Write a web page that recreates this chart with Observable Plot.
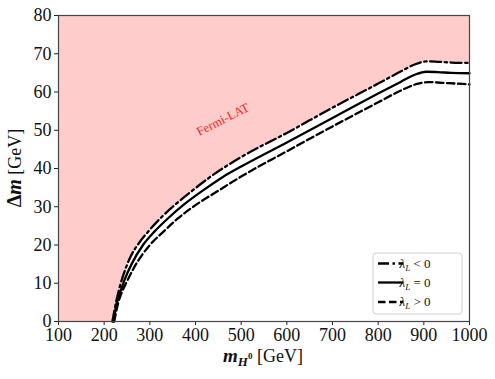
<!DOCTYPE html>
<html>
<head>
<meta charset="utf-8">
<script src="https://cdn.jsdelivr.net/npm/d3@7"></script>
<script src="https://cdn.jsdelivr.net/npm/@observablehq/plot@0.6"></script>
<style>
  html, body { margin: 0; padding: 0; background: #fff; }
  #chart { position: relative; width: 495px; height: 379px; }
  #chart svg, #chart svg text { font-family: 'Liberation Serif', 'DejaVu Serif', serif; }
</style>
</head>
<body>
<div id="chart"></div>
<script>
// Data (m_H0 in GeV, Δm in GeV)
const negMass = [218, 226, 234, 243, 258, 275, 300, 330, 360, 393, 430, 500, 600, 700, 800, 850, 880, 905, 930, 960, 1000];
const negDelta = [0, 5, 9, 12.5, 17, 20.3, 24, 27.8, 31, 34.2, 37.6, 43, 49.3, 55.9, 62.2, 65.4, 67.2, 68.0, 67.9, 67.7, 67.6];
const zeroMass = [220, 228, 236, 245, 260, 285, 310, 340, 375, 418, 460, 500, 600, 700, 800, 850, 880, 905, 930, 960, 1000];
const zeroDelta = [0, 5, 8, 11, 15, 20, 23.5, 27, 30.6, 34.4, 37.8, 40.5, 46.8, 53.2, 59.6, 62.7, 64.5, 65.3, 65.2, 65.0, 64.9];
const posMass = [222, 230, 240, 250, 265, 300, 330, 360, 395, 450, 500, 600, 700, 800, 850, 885, 910, 940, 970, 1000];
const posDelta = [0, 4.5, 8, 10.5, 14, 20, 23.5, 26.8, 30, 34.2, 37.9, 44.5, 51.0, 57.3, 60.4, 62.1, 62.6, 62.4, 62.2, 62.0];

const xTicks = [100, 200, 300, 400, 500, 600, 700, 800, 900, 1000];
const yTicks = [0, 10, 20, 30, 40, 50, 60, 70, 80];
const seriesNames = ["λ_L < 0", "λ_L = 0", "λ_L > 0"];
const regionLabel = "Fermi-LAT";
const regionLabelPos = [{m: 460, d: 52.8}];

const toRows = (ms, ds) => ms.map((m, i) => ({m, d: ds[i]}));
const neg = toRows(negMass, negDelta);
const zero = toRows(zeroMass, zeroDelta);
const pos = toRows(posMass, posDelta);
const shade = [{m: 100, d: 0}, ...neg];

const cmSerif = "'Liberation Serif', 'DejaVu Serif', serif";
const dashDot = "11,3.5,2.5,3.5";
const dashed = "7.5,3.5";

const plot = Plot.plot({
  width: 495,
  height: 379,
  marginLeft: 58,
  marginRight: 26,
  marginTop: 15,
  marginBottom: 58,
  style: {fontFamily: cmSerif, fontSize: "18px", color: "#111", background: "#fff"},
  x: {domain: [100, 1000]},
  y: {domain: [0, 80]},
  marks: [
    Plot.areaY(shade, {x: "m", y1: "d", y2: 80, fill: "#ffcccc", curve: "monotone-x"}),
    Plot.text(regionLabelPos, {x: "m", y: "d", text: () => regionLabel, rotate: -27, fill: "#ff2020", fontSize: 12.5, fontFamily: cmSerif}),
    Plot.line(neg, {x: "m", y: "d", stroke: "#000", strokeWidth: 2.3, strokeDasharray: dashDot, curve: "monotone-x"}),
    Plot.line(zero, {x: "m", y: "d", stroke: "#000", strokeWidth: 2.3, curve: "monotone-x"}),
    Plot.line(pos, {x: "m", y: "d", stroke: "#000", strokeWidth: 2.3, strokeDasharray: dashed, curve: "monotone-x"}),
    Plot.axisX({ticks: xTicks, tickFormat: d => String(d), tickSize: 4, tickPadding: 3, fontSize: 18, fontFamily: cmSerif, label: null, stroke: "#222"}),
    Plot.axisY({ticks: yTicks, tickFormat: d => String(d), tickSize: 4, tickPadding: 3, fontSize: 18, fontFamily: cmSerif, label: null, stroke: "#222"}),
    Plot.frame({stroke: "#444", strokeWidth: 1.2})
  ]
});

document.getElementById("chart").appendChild(plot);

const svg = d3.select(plot);
// x axis label: m_{H^0} [GeV]
const xl = svg.append("text")
  .attr("x", 263).attr("y", 362)
  .attr("text-anchor", "middle")
  .style("font-family", cmSerif).style("font-size", "18px").attr("fill", "#111");
xl.append("tspan").text("m").style("font-weight", "bold").style("font-style", "italic").style("font-size", "19px");
xl.append("tspan").text("H").attr("dy", 4).style("font-weight", "bold").style("font-style", "italic").style("font-size", "13px");
xl.append("tspan").text("0").attr("dy", -7).style("font-weight", "bold").style("font-size", "9px");
xl.append("tspan").text(" [GeV]").attr("dy", 3);

// y axis label: Δm [GeV]
const yl = svg.append("text")
  .attr("transform", "translate(21,168) rotate(-90)")
  .attr("text-anchor", "middle")
  .style("font-family", cmSerif).style("font-size", "18px").attr("fill", "#111");
yl.append("tspan").text("Δ").style("font-weight", "bold").style("font-size", "20px");
yl.append("tspan").text("m").style("font-weight", "bold").style("font-style", "italic").style("font-size", "20px");
yl.append("tspan").text(" [GeV]");

// legend
const lg = svg.append("g").attr("transform", "translate(373,253)");
lg.append("rect").attr("width", 89).attr("height", 61).attr("rx", 3)
  .attr("fill", "rgba(255,255,255,0.85)").attr("stroke", "#d0d0d0").attr("stroke-width", 1);
const dashes = [dashDot, null, dashed];
const rowsY = [10.5, 29.5, 49];
seriesNames.forEach((name, i) => {
  const ln = lg.append("line").attr("x1", 5).attr("x2", 30).attr("y1", rowsY[i]).attr("y2", rowsY[i])
    .attr("stroke", "#000").attr("stroke-width", 2.3);
  if (dashes[i]) ln.attr("stroke-dasharray", dashes[i]);
  const [base, rest] = name.split("_");
  const sub = rest.slice(0, 1);
  const tail = rest.slice(1);
  const t = lg.append("text").attr("x", 42).attr("y", rowsY[i] + 4)
    .style("font-family", cmSerif).style("font-size", "13px").attr("fill", "#111");
  t.append("tspan").text(base).style("font-style", "italic");
  t.append("tspan").text(sub).attr("dy", 3).style("font-style", "italic").style("font-size", "9px");
  t.append("tspan").text(tail).attr("dy", -3);
});
</script>
</body>
</html>
